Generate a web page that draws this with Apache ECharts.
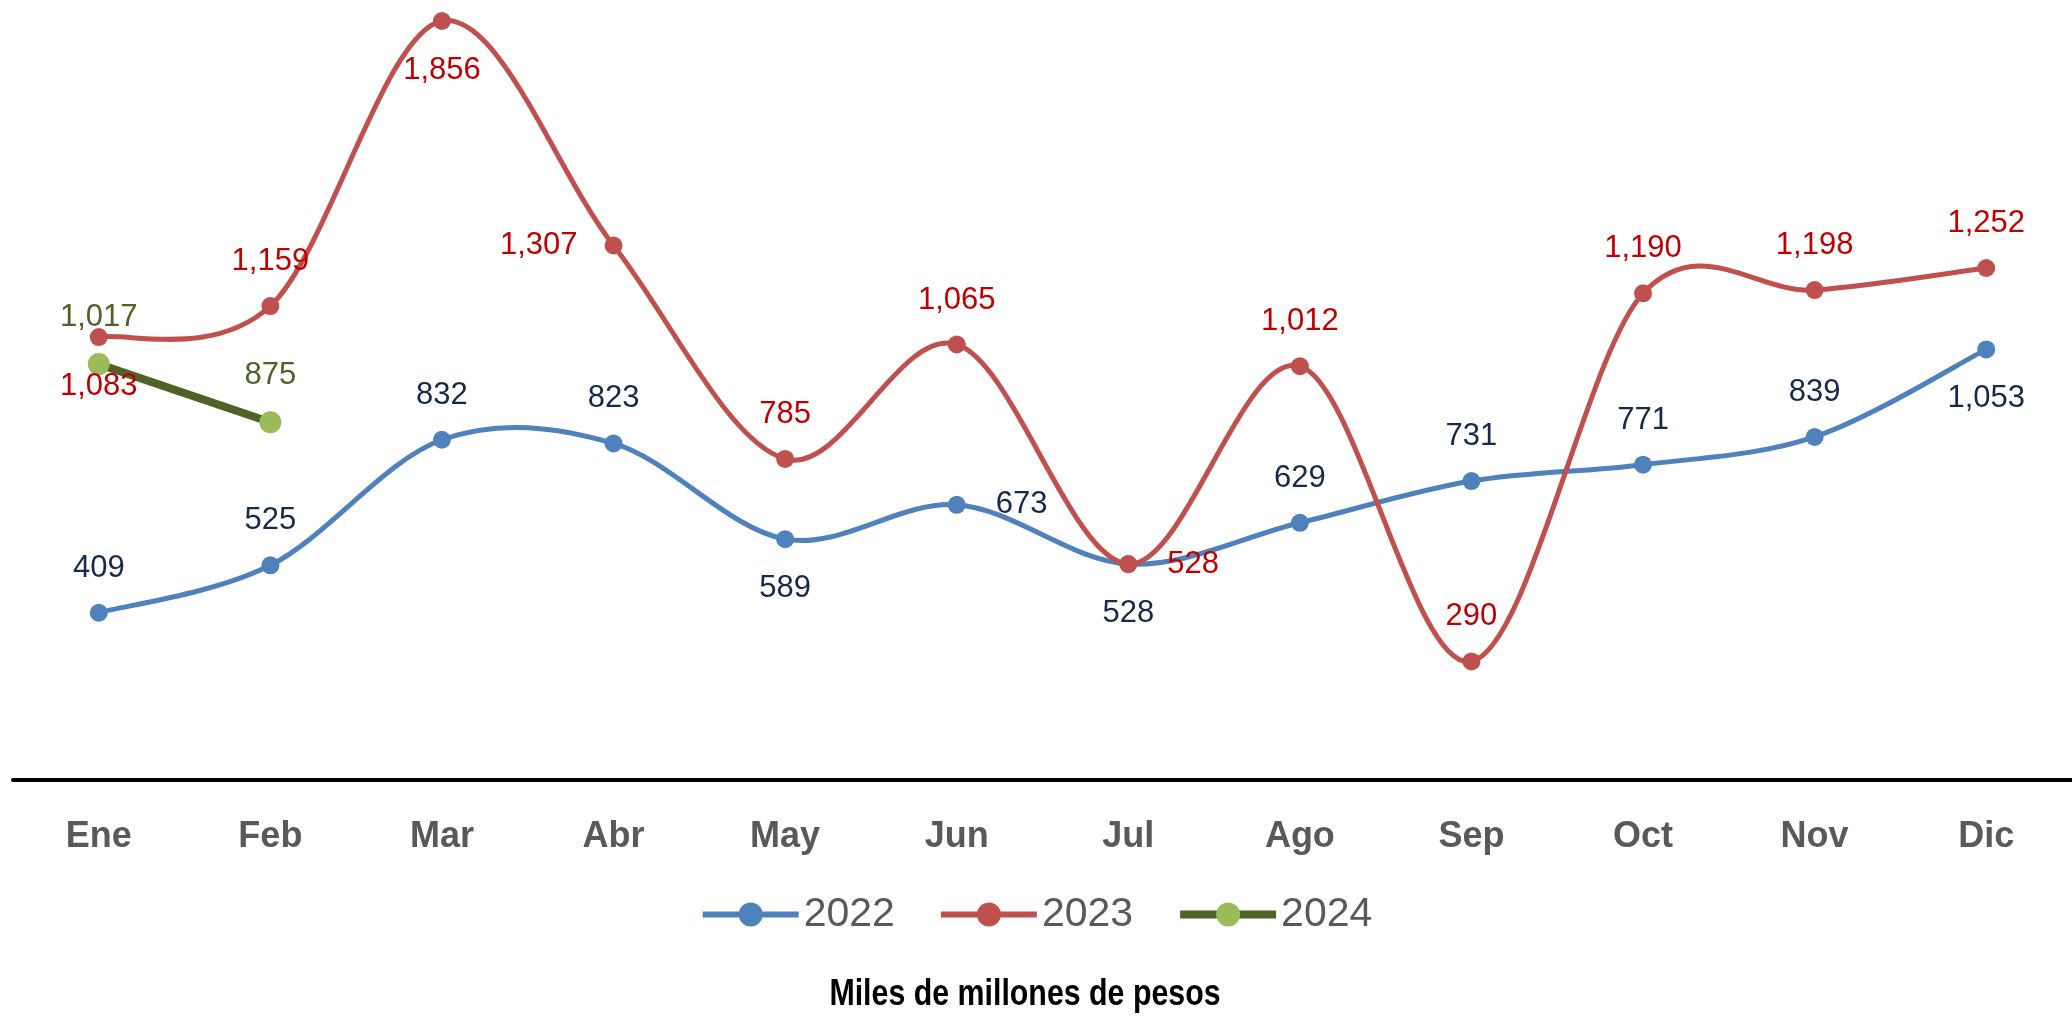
<!DOCTYPE html>
<html>
<head>
<meta charset="utf-8">
<title>Miles de millones de pesos</title>
<script src="https://cdn.jsdelivr.net/npm/echarts@6/dist/echarts.min.js"></script>
<style>
  body { margin: 0; padding: 0; background: #fff; }
  #chart { width: 2072px; height: 1016px; }
</style>
</head>
<body>
<div id="chart"></div>
<script>
// datos
const meses = ["Ene", "Feb", "Mar", "Abr", "May", "Jun", "Jul", "Ago", "Sep", "Oct", "Nov", "Dic"];
const v2022 = [409, 525, 832, 823, 589, 673, 528, 629, 731, 771, 839, 1053];
const v2023 = [1083, 1159, 1856, 1307, 785, 1065, 528, 1012, 290, 1190, 1198, 1252];
const v2024 = [1017, 875];

// donde va cada etiqueta
const pos2022 = ["top", "top", "top", "top", "bottom", "right", "bottom", "top", "top", "top", "top", "bottom"];
const pos2023 = ["bottom", "top", "bottom", "left", "top", "top", "right", "top", "top", "top", "top", "top"];
const pos2024 = ["top", "top"];

const sans = "'Liberation Sans', Arial, sans-serif";
const dist = { top: 20, bottom: 25, left: 27, right: 30 };

function fmt(n) {
  return String(n).replace(/\B(?=(\d{3})+(?!\d))/g, ",");
}

function withLabels(values, positions) {
  return values.map((v, i) => ({
    value: v,
    label: { position: positions[i], distance: dist[positions[i]] }
  }));
}

// curva suavizada tipo Excel (catmull-rom -> bezier)
function curva(nombre, values, color, width) {
  return {
    name: nombre,
    type: "custom",
    silent: true,
    data: values.map((v, i) => [i, v]),
    encode: { x: 0, y: 1 },
    renderItem: function (params, api) {
      const i = params.dataIndex;
      if (i >= values.length - 1) return null;
      const n = values.length;
      const p0 = api.coord([Math.max(i - 1, 0), values[Math.max(i - 1, 0)]]);
      const p1 = api.coord([i, values[i]]);
      const p2 = api.coord([i + 1, values[i + 1]]);
      const p3 = api.coord([Math.min(i + 2, n - 1), values[Math.min(i + 2, n - 1)]]);
      const t = 1 / 6;
      return {
        type: "bezierCurve",
        shape: {
          x1: p1[0], y1: p1[1],
          x2: p2[0], y2: p2[1],
          cpx1: p1[0] + (p2[0] - p0[0]) * t,
          cpy1: p1[1] + (p2[1] - p0[1]) * t,
          cpx2: p2[0] - (p3[0] - p1[0]) * t,
          cpy2: p2[1] - (p3[1] - p1[1]) * t
        },
        style: { fill: null, stroke: color, lineWidth: width, lineCap: "round" }
      };
    }
  };
}

const chart = echarts.init(document.getElementById("chart"));

const option = {
  animation: false,
  backgroundColor: "#fff",
  grid: { left: 13, right: -12, top: 3, bottom: 236 },
  legend: {
    left: "center",
    top: 894,
    padding: 0,
    itemGap: 43,
    itemWidth: 96,
    itemHeight: 30,
    textStyle: { color: "#595959", fontSize: 41, fontFamily: sans },
    data: [
      { name: "2022", lineStyle: { opacity: 1, width: 6, color: "#4F81BD" } },
      { name: "2023", lineStyle: { opacity: 1, width: 6, color: "#C0504D" } },
      { name: "2024", lineStyle: { opacity: 1, width: 8, color: "#4F6228" } }
    ]
  },
  xAxis: {
    type: "category",
    data: meses,
    boundaryGap: true,
    axisLine: { lineStyle: { color: "#000", width: 4 } },
    axisTick: { show: false },
    axisLabel: {
      color: "#595959",
      fontSize: 36,
      fontWeight: "bold",
      fontFamily: sans,
      margin: 39
    }
  },
  yAxis: {
    type: "value",
    min: 0,
    max: 1900,
    show: false,
    splitLine: { show: false }
  },
  graphic: [{
    type: "text",
    x: 1025,
    y: 976,
    scaleX: 0.82,
    style: {
      text: "Miles de millones de pesos",
      textAlign: "center",
      textVerticalAlign: "top",
      fill: "#000",
      fontSize: 37,
      fontWeight: "bold",
      fontFamily: sans
    }
  }],
  series: [
    curva("c2022", v2022, "#4F81BD", 5),
    {
      name: "2022",
      type: "line",
      data: withLabels(v2022, pos2022),
      symbol: "circle",
      symbolSize: 18,
      itemStyle: { color: "#4F81BD" },
      lineStyle: { color: "#4F81BD", width: 5, opacity: 0 },
      label: {
        show: true,
        color: "#15294A",
        fontSize: 31,
        fontFamily: sans,
        formatter: (p) => fmt(p.value)
      }
    },
    curva("c2023", v2023, "#C0504D", 5),
    {
      name: "2023",
      type: "line",
      data: withLabels(v2023, pos2023),
      symbol: "circle",
      symbolSize: 18,
      itemStyle: { color: "#C0504D" },
      lineStyle: { color: "#C0504D", width: 5, opacity: 0 },
      label: {
        show: true,
        color: "#C00000",
        fontSize: 31,
        fontFamily: sans,
        formatter: (p) => fmt(p.value)
      }
    },
    {
      name: "2024",
      type: "line",
      data: withLabels(v2024, pos2024),
      symbol: "circle",
      symbolSize: 22,
      itemStyle: { color: "#9BBB59" },
      lineStyle: { color: "#4F6228", width: 8 },
      label: {
        show: true,
        color: "#4F6228",
        fontSize: 31,
        fontFamily: sans,
        formatter: (p) => fmt(p.value)
      }
    }
  ]
};

chart.setOption(option);
</script>
</body>
</html>
